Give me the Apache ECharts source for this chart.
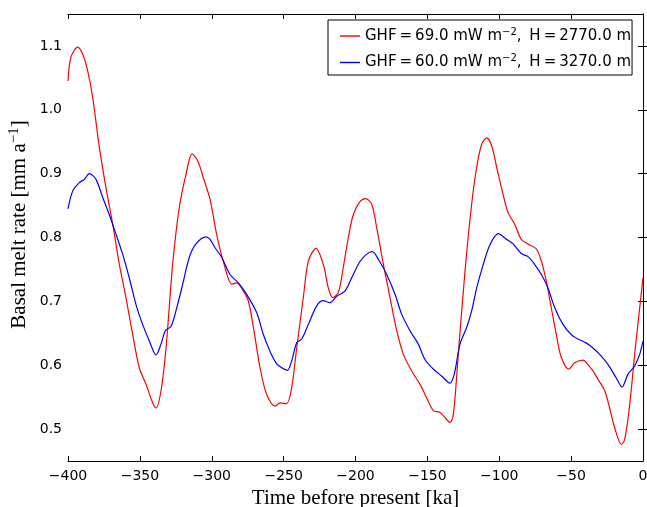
<!DOCTYPE html>
<html>
<head>
<meta charset="utf-8">
<script src="https://cdn.jsdelivr.net/npm/echarts@6/dist/echarts.min.js"></script>
<style>
html,body{margin:0;padding:0;background:#fff;}
#c{width:647px;height:507px;}
</style>
</head>
<body>
<div id="c"></div>
<script>
// Time before present [ka] and basal melt rate [mm/a]
const redT = [-400,-398,-393.3,-389.8,-386.3,-382.8,-378.2,-373.6,-368.9,-364.3,-359.7,-355,-350.4,-345.7,-341.6,-338.8,-335.3,-331.8,-327.2,-322.6,-317.9,-313.7,-309.8,-305.2,-301.2,-296.6,-292,-286.1,-282.6,-278,-274.6,-271,-266.4,-261.8,-256,-252.5,-247.9,-244.4,-240.9,-236.3,-232.8,-227.5,-222.4,-218.9,-215.9,-211.9,-208.5,-205,-201.5,-196.9,-192.9,-188.7,-185.3,-180.6,-176,-171.3,-166.7,-160.9,-155.1,-150.5,-145.9,-141.2,-136.6,-134.3,-131.9,-128.5,-123.8,-119.2,-115.7,-112.2,-108.7,-105.3,-101.8,-97.4,-93.9,-89.3,-84.7,-80,-74.2,-70.7,-67.3,-63.8,-60.3,-56.8,-51.7,-47.5,-41.7,-38.3,-34.8,-31.3,-26.6,-23.2,-19.7,-15.1,-12.7,-9.2,-5.8,-2.3,0];
const redV = [1.045,1.082,1.098,1.087,1.061,1.019,0.941,0.878,0.821,0.758,0.706,0.648,0.596,0.570,0.544,0.533,0.560,0.627,0.758,0.847,0.899,0.931,0.920,0.889,0.860,0.805,0.763,0.727,0.729,0.716,0.701,0.659,0.596,0.554,0.536,0.541,0.540,0.565,0.627,0.706,0.763,0.783,0.758,0.721,0.706,0.714,0.753,0.800,0.836,0.856,0.861,0.852,0.816,0.758,0.706,0.654,0.617,0.591,0.570,0.549,0.529,0.526,0.515,0.510,0.523,0.617,0.748,0.852,0.910,0.946,0.956,0.944,0.910,0.868,0.839,0.821,0.797,0.790,0.782,0.763,0.732,0.690,0.648,0.612,0.594,0.604,0.608,0.601,0.591,0.578,0.560,0.533,0.502,0.476,0.484,0.539,0.617,0.690,0.737];
const blueT = [-400,-396.7,-392.1,-388.7,-385.2,-380.5,-375.9,-371.3,-366.6,-362,-357.4,-352.7,-348.1,-343.4,-338.8,-335.3,-332.3,-328.3,-324.9,-320.2,-315.6,-311,-304,-301.2,-297.7,-293.1,-287.3,-281.5,-275.7,-268.7,-264.1,-259.5,-254.8,-251.3,-247.4,-244.4,-240.9,-237.4,-232.8,-227,-222.4,-217.7,-213.1,-207.3,-202.6,-197,-192.2,-188.3,-184.1,-178.3,-172.5,-167.9,-162.1,-156.3,-151.7,-145.9,-140.1,-134.3,-131.3,-127.3,-122.7,-119.2,-115.7,-111.1,-106.4,-100.6,-96,-90.4,-84.7,-80,-75.4,-70.7,-66.1,-61.4,-55.7,-49.9,-45.2,-39.6,-34.8,-30.2,-24.3,-18.6,-14.6,-10.4,-5.8,-2.3,0];
const blueV = [0.845,0.873,0.886,0.891,0.900,0.891,0.863,0.836,0.805,0.774,0.737,0.695,0.664,0.638,0.616,0.633,0.654,0.661,0.685,0.727,0.769,0.790,0.801,0.797,0.784,0.769,0.742,0.729,0.711,0.682,0.648,0.622,0.602,0.596,0.592,0.607,0.635,0.641,0.664,0.693,0.701,0.698,0.708,0.716,0.737,0.762,0.774,0.778,0.766,0.742,0.711,0.680,0.654,0.633,0.609,0.594,0.583,0.572,0.586,0.633,0.659,0.685,0.721,0.758,0.789,0.806,0.799,0.790,0.775,0.770,0.758,0.742,0.721,0.690,0.664,0.648,0.641,0.635,0.627,0.617,0.601,0.580,0.566,0.586,0.599,0.617,0.638];
const yTicks = [0.5,0.6,0.7,0.8,0.9,1.0,1.1];
const xTicks = [-400,-350,-300,-250,-200,-150,-100,-50,0];

const pairs = (t, v) => t.map((x, i) => [x, v[i]]);
const fmtX = v => String(v).replace('-', '\u2212');
const fmtY = v => v.toFixed(1);
const supRich = {
  sup: { fontSize: 10, fontFamily: 'DejaVu Sans', padding: [0, 0, 8, 0], color: '#000' },
  n: { fontSize: 15, fontFamily: 'DejaVu Sans', color: '#000' }
};

const chart = echarts.init(document.getElementById('c'));
const tickIn = { show: true, inside: true, length: 5, lineStyle: { color: '#000', width: 1 } };
const lineStyle = { show: true, lineStyle: { color: '#000', width: 1 } };
chart.setOption({
  animation: false,
  backgroundColor: '#fff',
  grid: { left: 68, width: 575, top: 14, height: 447, containLabel: false, outerBoundsMode: 'none' },
  legend: {
    left: 328, top: 20, orient: 'vertical',
    backgroundColor: '#fff', borderColor: '#000', borderWidth: 1, borderRadius: 0,
    padding: [7, 1, 5, 12], itemGap: 10, itemWidth: 20, itemHeight: 1.4,
    icon: 'rect',
    textStyle: { fontSize: 15, fontFamily: 'DejaVu Sans', color: '#000', lineHeight: 15, rich: supRich },
    formatter: name => name === 'r'
      ? '{n|GHF\u2009=\u200969.0 mW m}{sup|\u22122}{n|,\u2009 H\u2009=\u20092770.0 m}'
      : '{n|GHF\u2009=\u200960.0 mW m}{sup|\u22122}{n|,\u2009 H\u2009=\u20093270.0 m}',
    data: ['r', 'b']
  },
  xAxis: [{
    type: 'value', min: -400, max: 0, interval: 50, position: 'bottom',
    axisLine: lineStyle, axisTick: tickIn, splitLine: { show: false },
    axisLabel: { show: true, margin: 8, fontSize: 14, fontFamily: 'DejaVu Sans', color: '#000', formatter: fmtX, showMinLabel: true, showMaxLabel: true, customValues: xTicks },
    name: 'Time before present [ka]', nameLocation: 'middle', nameGap: 22,
    nameTextStyle: { fontSize: 21, fontFamily: 'Liberation Serif', color: '#000' }
  }, {
    type: 'value', min: -400, max: 0, interval: 50, position: 'top',
    axisLine: lineStyle, axisTick: tickIn, splitLine: { show: false },
    axisLabel: { show: false }
  }],
  yAxis: [{
    type: 'value', min: 0.45, max: 1.15, position: 'left',
    axisLine: lineStyle, splitLine: { show: false },
    axisTick: Object.assign({ customValues: yTicks }, tickIn),
    axisLabel: { show: true, margin: 6, fontSize: 14, fontFamily: 'DejaVu Sans', color: '#000', formatter: fmtY, customValues: yTicks },
    name: '{t|Basal melt rate [mm a}{s|\u22121}{t|]}', nameLocation: 'middle', nameGap: 36, nameRotate: 90,
    nameMoveOverlap: false,
    nameTextStyle: { color: '#000', padding: [0, 0, 0, 26], rich: {
      t: { fontSize: 21, fontFamily: 'Liberation Serif', color: '#000' },
      s: { fontSize: 15, fontFamily: 'Liberation Serif', color: '#000', padding: [0, 0, 10, 0] }
    } }
  }, {
    type: 'value', min: 0.45, max: 1.15, position: 'right',
    axisLine: lineStyle, splitLine: { show: false },
    axisTick: Object.assign({ customValues: yTicks }, tickIn),
    axisLabel: { show: false }
  }],
  series: [{
    name: 'r', type: 'line', data: pairs(redT, redV), showSymbol: false, symbol: 'none', smooth: 0.3,
    lineStyle: { color: '#ff0000', width: 1.2 }, itemStyle: { color: '#ff0000' }, xAxisIndex: 0, yAxisIndex: 0
  }, {
    name: 'b', type: 'line', data: pairs(blueT, blueV), showSymbol: false, symbol: 'none', smooth: 0.3,
    lineStyle: { color: '#0000ff', width: 1.2 }, itemStyle: { color: '#0000ff' }, xAxisIndex: 0, yAxisIndex: 0
  }]
});
</script>
</body>
</html>
